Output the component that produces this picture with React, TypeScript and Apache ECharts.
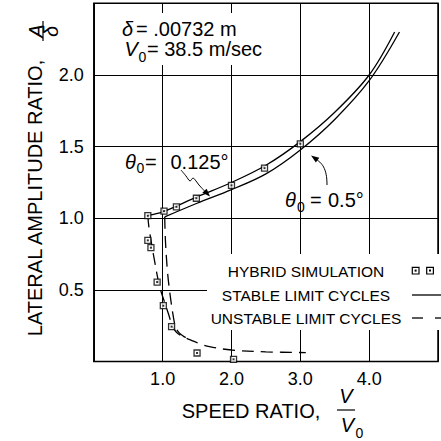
import React, { useEffect, useRef } from 'react';
import * as echarts from 'echarts';

// Axis ticks
const xTickValues = [1, 2, 3, 4];
const yTickValues = [0.5, 1.0, 1.5, 2.0];

// Hybrid simulation points
const simX = [0.785, 1.02, 1.2, 1.49, 2.0, 2.48, 3.0, 0.785, 0.83, 0.92, 1.01, 1.13, 1.5, 2.03];
const simY = [1.018, 1.05, 1.08, 1.14, 1.23, 1.35, 1.52, 0.846, 0.795, 0.555, 0.39, 0.244, 0.06, 0.016];

// Stable limit cycles
const stable0125X = [0.785, 1.0, 1.5, 2.0, 2.5, 3.0, 3.5, 4.0, 4.37];
const stable0125Y = [1.02, 1.045, 1.15, 1.25, 1.37, 1.535, 1.74, 2.0, 2.3];
const stable05X = [1.03, 1.5, 2.0, 2.5, 3.0, 3.5, 4.0, 4.44];
const stable05Y = [1.01, 1.105, 1.2, 1.31, 1.477, 1.69, 1.96, 2.3];

// Unstable limit cycles
const unstable0125X = [0.785, 0.8, 0.84, 0.88, 0.93, 0.97, 1.01, 1.09, 1.14, 1.2, 1.3, 1.41, 1.52, 1.68, 2.0, 2.5, 3.08];
const unstable0125Y = [1.02, 0.94, 0.82, 0.71, 0.58, 0.5, 0.44, 0.325, 0.25, 0.205, 0.172, 0.15, 0.128, 0.104, 0.081, 0.068, 0.063];
const unstable05X = [1.03, 1.04, 1.07, 1.11, 1.16, 1.19, 1.24, 1.3, 1.41];
const unstable05Y = [1.01, 0.85, 0.63, 0.46, 0.3, 0.24, 0.2, 0.178, 0.15];

const legendLabels = ['HYBRID SIMULATION', 'STABLE LIMIT CYCLES', 'UNSTABLE LIMIT CYCLES'];

const FONT = '"Liberation Sans", Arial, Helvetica, sans-serif';

const zip = (xs: number[], ys: number[]) => xs.map((x, i) => [x, ys[i]]);

function txt(text: string, x: number, y: number, size: number, opts: any = {}) {
  return {
    type: 'text',
    z: 10,
    x: opts.px ?? 0,
    y: opts.py ?? 0,
    rotation: opts.rotation ?? 0,
    style: {
      text,
      x: opts.px !== undefined ? 0 : x,
      y: opts.py !== undefined ? 0 : y,
      fill: '#000',
      fontSize: size,
      fontFamily: FONT,
      fontStyle: opts.italic ? 'italic' : 'normal',
      align: opts.align ?? 'left',
      verticalAlign: 'middle',
      lineHeight: opts.lineHeight ?? undefined,
    },
  };
}

function arrowHead(tx: number, ty: number, fx: number, fy: number) {
  const dx = tx - fx;
  const dy = ty - fy;
  const len = Math.hypot(dx, dy);
  const ux = dx / len;
  const uy = dy / len;
  const bx = tx - 8 * ux;
  const by = ty - 8 * uy;
  const px = -uy * 3;
  const py = ux * 3;
  return {
    type: 'polygon',
    z: 10,
    shape: { points: [[tx, ty], [bx + px, by + py], [bx - px, by - py]] },
    style: { fill: '#000' },
  };
}

export default function App() {
  const ref = useRef<HTMLDivElement>(null);

  useEffect(() => {
    const chart = echarts.init(ref.current!, null, { renderer: 'svg' });
    const lineBase = {
      type: 'line',
      showSymbol: false,
      smooth: 0.35,
      silent: true,
      z: 3,
    };
    const option: any = {
      animation: false,
      backgroundColor: '#fff',
      grid: {
        left: 93.8,
        top: 3.35,
        width: 356,
        height: 358.25,
        show: true,
        borderColor: '#000',
        borderWidth: 1.5,
        backgroundColor: 'transparent',
      },
      xAxis: {
        type: 'value',
        min: 0,
        max: 5,
        interval: 1,
        axisLine: { show: false },
        axisTick: { show: false },
        splitLine: { show: true, lineStyle: { color: '#000', width: 1 } },
        axisLabel: {
          color: '#000',
          fontSize: 18,
          fontFamily: FONT,
          margin: 8,
          formatter: (v: number) => (xTickValues.some((t) => Math.abs(t - v) < 1e-6) ? v.toFixed(1) : ''),
        },
      },
      yAxis: {
        type: 'value',
        min: 0,
        max: 2.5,
        interval: 0.5,
        axisLine: { show: false },
        axisTick: { show: false },
        splitLine: { show: true, lineStyle: { color: '#000', width: 1 } },
        axisLabel: {
          color: '#000',
          fontSize: 18,
          fontFamily: FONT,
          margin: 10,
          formatter: (v: number) => (yTickValues.some((t) => Math.abs(t - v) < 1e-6) ? v.toFixed(1) : ''),
        },
      },
      series: [
        { ...lineBase, name: 'stable 0.125', data: zip(stable0125X, stable0125Y), lineStyle: { color: '#000', width: 1.3 } },
        { ...lineBase, name: 'stable 0.5', data: zip(stable05X, stable05Y), lineStyle: { color: '#000', width: 1.3 } },
        { ...lineBase, name: 'unstable 0.125', data: zip(unstable0125X, unstable0125Y), lineStyle: { color: '#000', width: 1.3, type: [12, 7] } },
        { ...lineBase, name: 'unstable 0.5', data: zip(unstable05X, unstable05Y), lineStyle: { color: '#000', width: 1.3, type: [12, 7] } },
        {
          type: 'scatter',
          name: 'hybrid',
          data: zip(simX, simY),
          symbol: 'rect',
          symbolSize: 6,
          silent: true,
          z: 5,
          itemStyle: { color: '#fff', borderColor: '#000', borderWidth: 1.3 },
        },
        {
          type: 'scatter',
          name: 'hybrid dot',
          data: zip(simX, simY),
          symbol: 'rect',
          symbolSize: 2,
          silent: true,
          z: 6,
          itemStyle: { color: '#000' },
        },
      ],
      graphic: [
        // white backgrounds covering the grid lines
        { type: 'rect', z: 1, shape: { x: 100, y: 13, width: 175, height: 52 }, style: { fill: '#fff' } },
        { type: 'rect', z: 1, shape: { x: 207, y: 254, width: 240, height: 76 }, style: { fill: '#fff' } },

        // constants annotation
        txt('δ', 122, 29, 20, { italic: true }),
        txt('= .00732 m', 136, 29, 20),
        txt('V', 124.5, 49.2, 20, { italic: true }),
        txt('0', 138.5, 56.5, 14, { lineHeight: 11 }),
        txt('= 38.5 m/sec', 147, 49.2, 20),

        // theta labels
        txt('θ', 125, 161.5, 20, { italic: true }),
        txt('0', 136.5, 168, 14, { lineHeight: 11 }),
        txt('=', 145, 161.5, 20),
        txt('0.125°', 170.5, 161.5, 20),
        txt('θ', 285, 200, 20, { italic: true }),
        txt('0', 297, 206.5, 14, { lineHeight: 11 }),
        txt('=', 310, 200, 20),
        txt('0.5°', 328, 200, 20),

        // wavy arrow to upper curve
        {
          type: 'polyline',
          z: 10,
          shape: { points: [[181, 170], [186, 176], [190, 181], [193, 178], [196, 181], [199, 185], [206, 192.5]], smooth: 0.3 },
          style: { stroke: '#000', lineWidth: 1, fill: null },
        },
        arrowHead(210, 196.5, 199, 185),
        // curved arrow to lower curve
        {
          type: 'bezierCurve',
          z: 10,
          shape: { x1: 327, y1: 185, cpx1: 327, cpy1: 168, cpx2: 322, cpy2: 163, x2: 315, y2: 158.5 },
          style: { stroke: '#000', lineWidth: 1, fill: null },
        },
        arrowHead(311, 155.5, 316, 159),

        // legend
        txt(legendLabels[0], 306, 271, 15.5, { align: 'center' }),
        txt(legendLabels[1], 306, 295, 15.5, { align: 'center' }),
        txt(legendLabels[2], 306, 318, 15.5, { align: 'center' }),
        { type: 'rect', z: 10, shape: { x: 412.3, y: 267.3, width: 6.7, height: 6.7 }, style: { fill: '#fff', stroke: '#000', lineWidth: 1.2 } },
        { type: 'rect', z: 11, shape: { x: 414.6, y: 269.6, width: 2, height: 2 }, style: { fill: '#000' } },
        { type: 'rect', z: 10, shape: { x: 426.7, y: 267.3, width: 6.7, height: 6.7 }, style: { fill: '#fff', stroke: '#000', lineWidth: 1.2 } },
        { type: 'rect', z: 11, shape: { x: 429, y: 269.6, width: 2, height: 2 }, style: { fill: '#000' } },
        { type: 'line', z: 10, shape: { x1: 412, y1: 295, x2: 441, y2: 295 }, style: { stroke: '#000', lineWidth: 1.3 } },
        { type: 'line', z: 10, shape: { x1: 412, y1: 318, x2: 423, y2: 318 }, style: { stroke: '#000', lineWidth: 1.3 } },
        { type: 'line', z: 10, shape: { x1: 435, y1: 318, x2: 441, y2: 318 }, style: { stroke: '#000', lineWidth: 1.3 } },

        // y axis title
        txt('LATERAL AMPLITUDE RATIO,', 0, 0, 20, { align: 'center', px: 35, py: 198, rotation: Math.PI / 2 }),
        txt('A', 0, 0, 20, { align: 'center', italic: true, px: 35.5, py: 31, rotation: Math.PI / 2 }),
        { type: 'line', z: 10, shape: { x1: 43, y1: 21, x2: 43, y2: 41 }, style: { stroke: '#000', lineWidth: 1.2 } },
        txt('δ', 0, 0, 20, { align: 'center', italic: true, px: 51, py: 31.5, rotation: Math.PI / 2 }),

        // x axis title
        txt('SPEED RATIO,', 251, 411, 20, { align: 'center' }),
        txt('V', 346, 395.5, 20, { align: 'center', italic: true }),
        { type: 'line', z: 10, shape: { x1: 337, y1: 410, x2: 355, y2: 410 }, style: { stroke: '#000', lineWidth: 1.2 } },
        txt('V', 347.5, 425, 20, { align: 'center', italic: true }),
        txt('0', 355.5, 432.5, 14, { lineHeight: 11 }),
      ],
    };
    chart.setOption(option);
    return () => chart.dispose();
  }, []);

  return (
    <div
      ref={ref}
      style={{ position: 'fixed', left: 0, top: 0, width: 441, height: 441, background: '#fff' }}
    />
  );
}
